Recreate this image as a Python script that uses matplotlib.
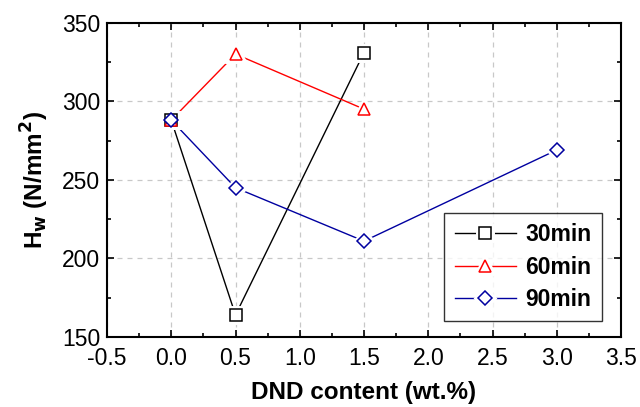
import matplotlib
matplotlib.use("Agg")
import matplotlib.pyplot as plt
from matplotlib.ticker import MultipleLocator, FormatStrFormatter
from matplotlib.legend_handler import HandlerTuple

plt.rcParams['font.family'] = ['Liberation Sans', 'DejaVu Sans']

x30 = [0.0, 0.5, 1.5]
y30 = [288, 164, 331]
x60 = [0.0, 0.5, 1.5]
y60 = [288, 330, 295]
x90 = [0.0, 0.5, 1.5, 3.0]
y90 = [288, 245, 211, 269]
labels = ['30min', '60min', '90min']

fig = plt.figure(figsize=(6.4, 4.07), dpi=100)
ax = fig.add_axes([107/640, 1 - 337/407, (621-107)/640, (337-22.7)/407])

series = [
    (x30, y30, 'black', 's', 8),
    (x60, y60, 'red', '^', 9),
    (x90, y90, '#0000a0', 'D', 7),
]
handles = []
for i, (xs, ys, c, m, ms) in enumerate(series):
    ln, = ax.plot(xs, ys, color=c, lw=1, zorder=2)
    halo, = ax.plot(xs, ys, ls='none', marker=m, ms=ms, mfc='white', mec='white', mew=5, zorder=3)
    mk, = ax.plot(xs, ys, ls='none', marker=m, ms=ms, mfc='white', mec=c, mew=1.1, zorder=4 + i)
    handles.append((ln, halo, mk))

ax.set_xlim(-0.5, 3.5)
ax.set_ylim(150, 350)
ax.xaxis.set_major_locator(MultipleLocator(0.5))
ax.xaxis.set_minor_locator(MultipleLocator(0.25))
ax.yaxis.set_major_locator(MultipleLocator(50))
ax.yaxis.set_minor_locator(MultipleLocator(25))
ax.xaxis.set_major_formatter(FormatStrFormatter('%.1f'))
ax.yaxis.set_major_formatter(FormatStrFormatter('%d'))

ax.tick_params(which='both', direction='in', top=True, right=True, labelsize=16.5, width=1.2)
ax.tick_params(which='major', length=5)
ax.tick_params(which='minor', length=3)
ax.tick_params(axis='x', pad=7)
ax.tick_params(axis='y', pad=5)
for s in ax.spines.values():
    s.set_linewidth(1.5)

ax.grid(True, which='major', linestyle=(0, (4, 4)), color='#c8c8c8', lw=0.9)
ax.set_axisbelow(True)

ax.set_xlabel('DND content (wt.%)', fontsize=17.5, fontweight='bold', labelpad=8)
ax.set_ylabel(r'H$_\mathbf{w}$ (N/mm$^\mathbf{2}$)', fontsize=17.5, fontweight='bold', labelpad=8)

leg = ax.legend(handles, labels, handler_map={tuple: HandlerTuple(ndivide=1, pad=0)},
                loc='lower right', bbox_to_anchor=(602/640, 1 - 321/407), bbox_transform=fig.transFigure,
                prop={'weight': 'bold', 'size': 16.5}, frameon=True, fancybox=False,
                edgecolor='black', handlelength=2.7, borderpad=0.45, labelspacing=0.4, handletextpad=0.4,
                borderaxespad=0)
leg.get_frame().set_linewidth(1.0)

fig.savefig('out.png', dpi=100)
